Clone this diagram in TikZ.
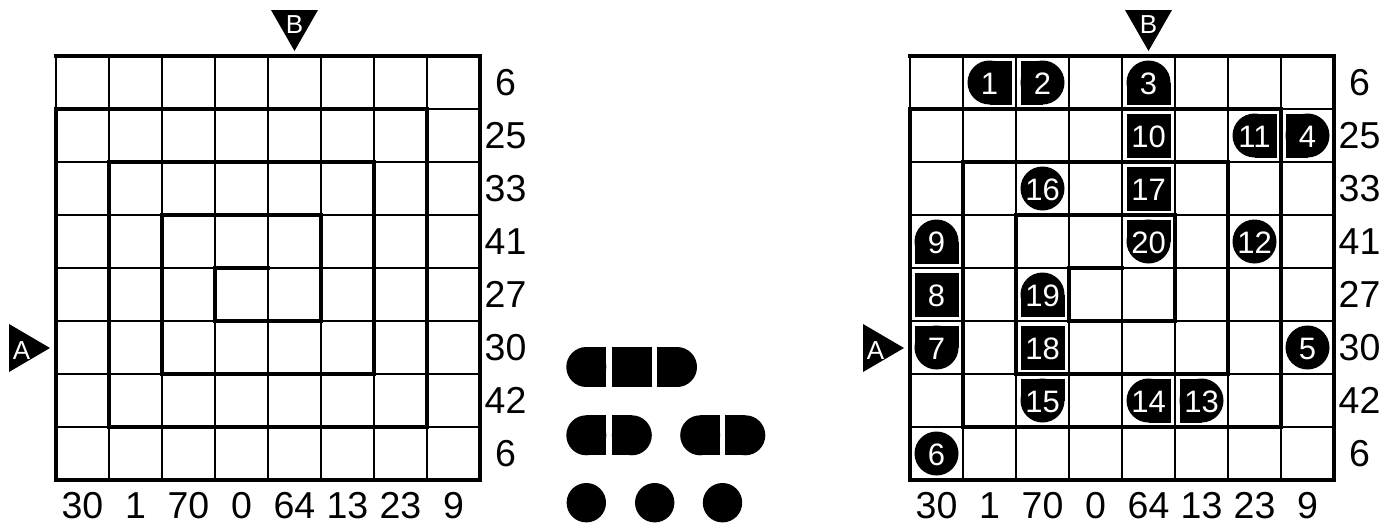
\documentclass[tikz,border=0pt]{standalone}
\usepackage{fontspec}
\setmainfont{Liberation Sans}
\newcommand{\shpO}[3]{\fill (#1,#2) circle (#3pt);}
\newcommand{\shpS}[3]{\fill ({#1-#3},{#2-#3}) rectangle ({#1+#3},{#2+#3});}
\newcommand{\shpL}[3]{\fill (#1,#2) circle (#3pt); \fill (#1,{#2-#3}) rectangle ({#1+#3},{#2+#3});}
\newcommand{\shpR}[3]{\fill (#1,#2) circle (#3pt); \fill ({#1-#3},{#2-#3}) rectangle (#1,{#2+#3});}
\newcommand{\shpT}[3]{\fill (#1,#2) circle (#3pt); \fill ({#1-#3},#2) rectangle ({#1+#3},{#2+#3});}
\newcommand{\shpB}[3]{\fill (#1,#2) circle (#3pt); \fill ({#1-#3},{#2-#3}) rectangle ({#1+#3},#2);}
\newcommand{\gpiece}[5]{%
  \pgfmathsetmacro{\pcx}{936.5+53*#1}%
  \pgfmathsetmacro{\pcy}{82.5+53*#2}%
  \csname shp#3\endcsname{\pcx}{\pcy}{22}%
  \node[num] (#5) at (\pcx,{\pcy+1}) {#4};}
\newcommand{\puzgrid}[2]{%
  \foreach \i in {0,...,8}{%
    \draw[thinline] ({#1+53*\i},56) -- ({#1+53*\i},480);
    \draw[thinline] (#1,{56+53*\i}) -- ({#1+424},{56+53*\i});
  }
  \begin{scope}[shift={(#1,56)}, x=53pt, y=-53pt]
    \draw[thickline] (0,0) -- (8,0) -- (8,8) -- (0,8) -- (0,1) -- (7,1) -- (7,7) -- (1,7) -- (1,2) -- (6,2) -- (6,6) -- (2,6) -- (2,3) -- (5,3) -- (5,5) -- (3,5) -- (3,4) -- (4,4);
  \end{scope}
  \foreach \v [count=\k from 0] in {6,25,33,41,27,30,42,6}
    \node[lbl] (#2r\k) at ({#1+449.5},{82.5+53*\k}) {\v};
  \foreach \v [count=\k from 0] in {30,1,70,0,64,13,23,9}
    \node[lbl] (#2c\k) at ({#1+26.5+53*\k},506) {\v};
  \fill ({#1-47},324) -- ({#1-6},348) -- ({#1-47},372) -- cycle;
  \node[tlet] (#2A) at ({#1-34.5},351) {A};
  \fill ({#1+215},10) -- ({#1+262},10) -- ({#1+238.5},51) -- cycle;
  \node[tlet] (#2B) at ({#1+238.5},25) {B};
}
\begin{document}
\begin{tikzpicture}[x=1pt,y=-1pt,
  thinline/.style={line width=1.6pt},
  thickline/.style={line width=4.2pt, line cap=rect, line join=miter},
  lbl/.style={font=\fontsize{37.5}{40}\selectfont, inner sep=0pt},
  num/.style={font=\fontsize{31}{33}\selectfont, text=white, inner sep=0pt},
  tlet/.style={font=\fontsize{26}{28}\selectfont, text=white, inner sep=0pt}]
\useasboundingbox (0,0) rectangle (1397,522);
\fill[white] (0,0) rectangle (1397,522);
\puzgrid{56}{L}
\puzgrid{910}{R}
% legend
\shpL{586.3}{367}{20}
\shpS{631.8}{367}{20}
\shpR{677}{367}{20}
\shpL{586.3}{435.3}{20}
\shpR{631.8}{435.3}{20}
\shpL{700.2}{435.3}{20}
\shpR{745.3}{435.3}{20}
\shpO{586.3}{502.7}{19.7}
\shpO{654.7}{502.7}{19.7}
\shpO{722.5}{502.7}{19.7}
% pieces in right grid
\gpiece{1}{0}{L}{1}{p1}
\gpiece{2}{0}{R}{2}{p2}
\gpiece{4}{0}{T}{3}{p3}
\gpiece{7}{1}{R}{4}{p4}
\gpiece{7}{5}{O}{5}{p5}
\gpiece{0}{7}{O}{6}{p6}
\gpiece{0}{5}{B}{7}{p7}
\gpiece{0}{4}{S}{8}{p8}
\gpiece{0}{3}{T}{9}{p9}
\gpiece{4}{1}{S}{10}{p10}
\gpiece{6}{1}{L}{11}{p11}
\gpiece{6}{3}{O}{12}{p12}
\gpiece{5}{6}{R}{13}{p13}
\gpiece{4}{6}{L}{14}{p14}
\gpiece{2}{6}{B}{15}{p15}
\gpiece{2}{2}{O}{16}{p16}
\gpiece{4}{2}{S}{17}{p17}
\gpiece{2}{5}{S}{18}{p18}
\gpiece{2}{4}{T}{19}{p19}
\gpiece{4}{3}{B}{20}{p20}
\end{tikzpicture}
\end{document}
